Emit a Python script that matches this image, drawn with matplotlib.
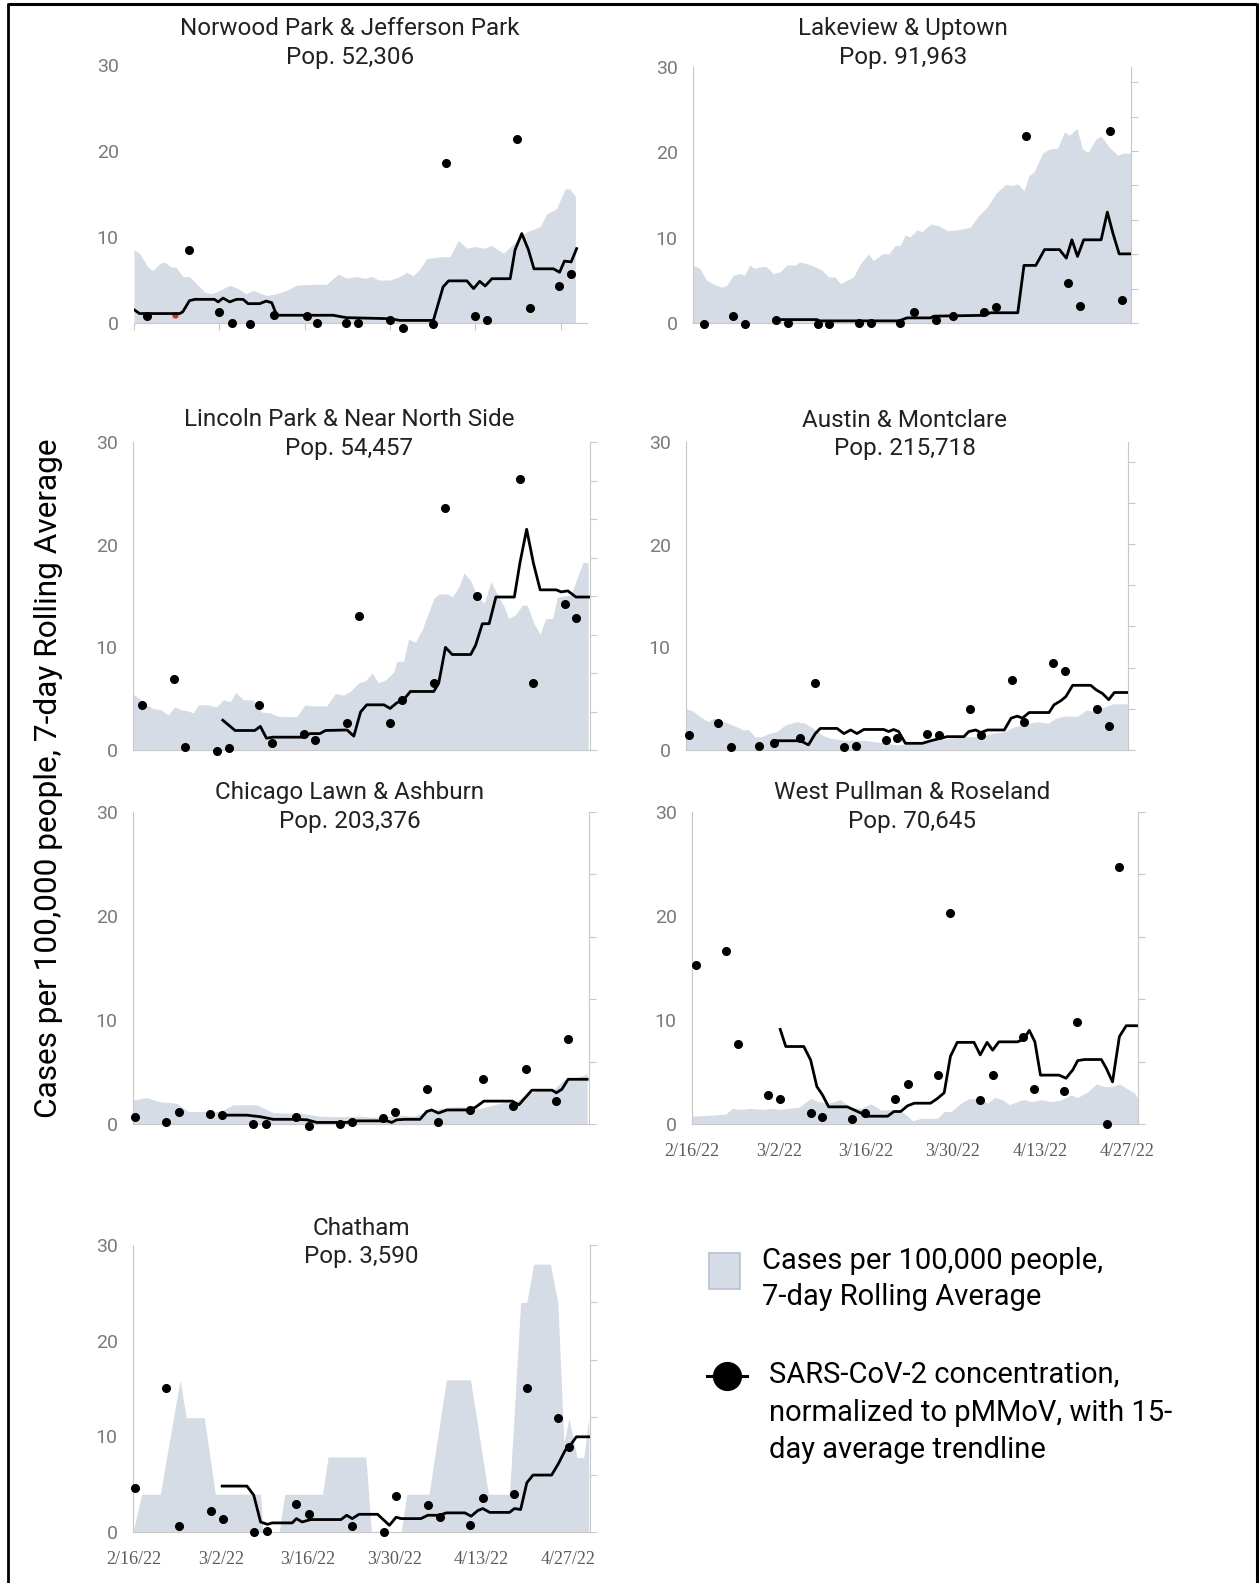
import matplotlib
matplotlib.use("Agg")
import matplotlib.pyplot as plt
from matplotlib.patches import Rectangle

plt.rcParams['font.family'] = ['Roboto', 'DejaVu Sans']

W, H = 1259, 1583

# days counted from 2/16/22, values on the 0-30 axis
norwood_case_x = [0, 0.9, 2.3, 3.1, 4.2, 5.0, 6.1, 6.9, 8.0, 9.1, 10.2, 11.6, 12.7, 14.1, 15.7, 17.1, 18.4, 19.5, 21.7, 23.4,
                  25.0, 26.7, 29.4, 31.6, 33.5, 34.9, 36.5, 37.9, 39.0, 40.1, 42.0, 43.6, 44.7, 45.8, 46.9, 48.0, 50.2, 51.8,
                  53.2, 54.6, 55.9, 57.3, 58.7, 60.6, 62.2, 64.4, 66.6, 67.7, 69.3, 70.7, 71.5, 72.4]
norwood_case_y = [8.5, 8.1, 6.5, 6.1, 6.9, 7.1, 6.5, 6.5, 5.4, 5.4, 4.6, 3.6, 3.4, 3.8, 4.4, 4.0, 3.4, 3.8, 3.2, 3.4,
                  3.8, 4.4, 4.5, 4.5, 5.7, 5.2, 5.4, 5.2, 5.4, 5.0, 5.0, 5.4, 5.9, 5.5, 6.3, 7.5, 7.7, 7.7,
                  9.6, 8.7, 8.9, 8.7, 9.0, 8.1, 9.2, 10.6, 11.2, 12.7, 13.3, 15.6, 15.6, 14.7]
norwood_trend_x = [0, 0.9, 7.5, 8.0, 9.1, 10.0, 13.2, 13.8, 14.6, 15.7, 16.8, 17.9, 18.7, 20.6, 21.7, 22.6, 23.4, 32.7, 33.8, 34.9,
                   42.0, 43.6, 49.1, 50.7, 51.6, 54.6, 55.7, 56.7, 57.6, 58.7, 61.7, 62.5, 63.6, 64.7, 65.6, 68.8, 69.8, 70.6, 71.7, 72.6]
norwood_trend_y = [1.55, 1.1, 1.1, 1.3, 2.6, 2.75, 2.75, 2.45, 2.9, 2.45, 2.75, 2.75, 2.25, 2.25, 2.55, 2.35, 0.9, 0.9, 0.75, 0.62,
                   0.5, 0.3, 0.3, 4.2, 4.9, 4.9, 4.0, 4.85, 4.3, 5.15, 5.15, 8.5, 10.4, 8.5, 6.3, 6.3, 5.9, 7.2, 7.1, 8.65]
norwood_dot_x = [2.2, 9.1, 14.0, 16.0, 19.0, 23.0, 28.3, 30.0, 34.8, 36.8, 42.0, 44.1, 49.1, 51.1, 55.9, 57.9, 62.9, 65.0, 69.7, 71.7]
norwood_dot_y = [0.8, 8.5, 1.3, 0.0, -0.15, 0.9, 0.8, 0.05, 0.05, 0.05, 0.4, -0.55, -0.1, 18.55, 0.8, 0.4, 21.45, 1.8, 4.3, 5.75]
norwood_flag_x = [6.7]
norwood_flag_y = [0.9]

lakeview_case_x = [0, 1.1, 2.2, 3.2, 4.6, 5.4, 6.5, 7.5, 8.3, 9.1, 9.9, 11.0, 11.8, 12.9, 14.0, 15.1, 16.4, 17.2, 18.3, 19.6,
                   20.7, 21.8, 22.8, 23.7, 24.7, 25.8, 26.9, 28.2, 29.0, 30.4, 31.5, 32.5, 33.3, 34.1, 34.9, 36.0, 36.8, 38.2,
                   39.5, 40.9, 42.2, 43.5, 44.6, 45.7, 47.3, 48.7, 50.3, 51.1, 52.2, 53.2, 54.0, 54.8, 56.2, 57.3, 58.6, 59.7,
                   60.5, 61.7, 62.6, 63.5, 64.8, 65.6, 66.9, 68.3, 69.1, 70.4]
lakeview_case_y = [6.8, 6.4, 5.0, 4.6, 4.2, 4.4, 5.6, 5.8, 5.6, 6.8, 6.4, 6.6, 6.6, 5.8, 6.0, 6.8, 6.8, 7.15, 6.95, 6.6,
                   6.2, 5.4, 5.4, 4.6, 5.0, 5.4, 6.95, 8.1, 7.3, 8.1, 8.1, 9.1, 9.1, 10.3, 10.1, 10.9, 10.7, 11.6,
                   11.4, 10.8, 10.9, 11.05, 11.25, 12.4, 13.6, 15.2, 16.25, 16.1, 16.3, 15.5, 17.3, 17.7, 19.9, 20.4, 20.5, 22.4,
                   22.0, 22.8, 20.4, 20.0, 21.6, 21.9, 20.6, 19.65, 19.9, 19.9]
lakeview_trend_x = [13.3, 19.9, 20.4, 33.1, 34.4, 38.2, 38.7, 46.8, 47.8, 52.2, 53.2, 55.1, 56.5, 58.9, 60.0, 60.9, 61.8, 62.8,
                    65.6, 66.6, 67.5, 68.5, 70.4]
lakeview_trend_y = [0.4, 0.4, 0.25, 0.25, 0.6, 0.6, 0.8, 0.9, 1.2, 1.2, 6.75, 6.75, 8.6, 8.6, 7.6, 9.75, 7.8, 9.75,
                    9.75, 13.0, 10.5, 8.1, 8.1]
lakeview_dot_x = [1.7, 6.5, 8.3, 13.3, 15.3, 20.1, 21.9, 26.7, 28.6, 33.2, 35.6, 39.1, 41.8, 46.8, 48.7, 53.5, 60.2, 62.2, 67.1, 69.0]
lakeview_dot_y = [-0.15, 0.8, -0.15, 0.4, 0.0, -0.15, -0.15, 0.0, 0.0, 0.0, 1.3, 0.4, 0.8, 1.3, 1.9, 21.9, 4.7, 2.0, 22.45, 2.75]

lincoln_case_x = [0, 1.1, 2.2, 3.3, 4.6, 5.7, 6.8, 7.9, 9.0, 9.8, 10.6, 12.2, 13.6, 14.7, 15.8, 16.7, 17.9, 19.6, 20.9, 22.3,
                  23.6, 25.0, 26.6, 28.0, 29.3, 31.5, 32.9, 34.2, 35.3, 36.7, 37.8, 38.9, 39.9, 41.0, 42.4, 42.9, 44.0, 44.8,
                  45.9, 47.0, 47.8, 48.9, 49.7, 51.1, 51.9, 53.0, 53.8, 54.9, 56.0, 57.1, 58.2, 59.2, 60.3, 61.1, 62.2, 63.3,
                  64.1, 65.2, 66.2, 67.1, 68.2, 69.0, 70.1, 71.2, 72.3, 73.2, 74.0]
lincoln_case_y = [5.45, 5.0, 4.4, 4.05, 3.9, 3.4, 4.2, 3.9, 3.8, 3.6, 4.4, 4.4, 4.2, 4.9, 4.7, 5.6, 4.9, 4.85, 3.7, 3.6,
                  3.3, 3.25, 3.25, 4.4, 4.3, 4.3, 5.5, 5.35, 5.7, 6.55, 6.75, 7.5, 6.55, 6.8, 7.6, 8.65, 8.65, 10.8,
                  10.5, 11.7, 13.0, 14.75, 15.2, 15.2, 14.9, 15.9, 17.25, 16.5, 14.9, 14.3, 16.4, 15.2, 14.0, 12.8, 13.2, 14.1,
                  14.1, 12.3, 11.3, 12.8, 12.8, 14.9, 15.0, 15.1, 16.9, 18.3, 18.2]
lincoln_trend_x = [14.6, 16.6, 19.8, 20.7, 21.7, 22.8, 27.7, 28.8, 30.4, 31.3, 34.8, 35.9, 37.0, 38.0, 40.8, 41.8, 42.9, 44.0,
                   45.1, 48.9, 49.7, 50.8, 51.9, 54.9, 55.7, 56.8, 57.9, 59.0, 62.0, 62.9, 64.0, 65.1, 66.2, 68.8, 69.6, 70.7,
                   72.0, 74.2]
lincoln_trend_y = [2.9, 1.9, 1.9, 2.3, 1.15, 1.25, 1.25, 1.6, 1.6, 1.9, 1.95, 1.35, 3.7, 4.4, 4.4, 4.05, 4.6, 4.9,
                   5.7, 5.7, 6.5, 10.0, 9.3, 9.3, 10.2, 12.3, 12.3, 14.9, 14.9, 18.2, 21.5, 18.2, 15.6, 15.6, 15.4, 15.5,
                   14.9, 14.9]
lincoln_dot_x = [1.4, 6.6, 8.4, 13.6, 15.6, 20.5, 22.6, 27.8, 29.6, 34.8, 36.8, 41.8, 43.8, 49.0, 50.8, 56.0, 63.0, 65.0, 70.3, 72.0]
lincoln_dot_y = [4.4, 6.95, 0.3, -0.05, 0.15, 4.4, 0.7, 1.6, 1.0, 2.6, 13.05, 2.6, 4.85, 6.5, 23.6, 15.0, 26.35, 6.5, 14.25, 12.9]

austin_case_x = [0, 1.2, 2.3, 3.6, 4.4, 5.5, 6.8, 8.2, 9.2, 10.0, 11.1, 12.2, 13.3, 14.6, 16.0, 17.8, 19.2, 20.5, 21.9, 23.2,
                 25.4, 28.6, 31.8, 34.0, 35.6, 38.3, 40.4, 42.6, 44.7, 47.4, 49.0, 51.2, 52.8, 54.9, 56.6, 58.2, 59.5, 60.9,
                 63.0, 64.4, 65.7, 67.3, 68.7, 71.1]
austin_case_y = [4.05, 3.75, 3.25, 2.75, 3.1, 2.9, 2.6, 2.25, 1.95, 2.0, 1.3, 1.3, 1.6, 1.8, 2.45, 2.75, 2.6, 2.1, 1.45, 1.15,
                 0.95, 0.95, 0.7, 0.5, 0.6, 0.6, 0.95, 1.15, 1.3, 1.3, 1.6, 1.8, 2.25, 2.6, 2.75, 2.6, 3.1, 3.3,
                 3.3, 3.9, 3.75, 4.2, 4.5, 4.5]
austin_trend_x = [14.1, 18.4, 19.7, 20.8, 21.6, 24.3, 25.4, 26.5, 27.5, 28.6, 31.8, 32.6, 33.4, 34.2, 35.3, 38.0, 39.4, 42.0,
                  44.7, 45.5, 46.6, 47.4, 48.5, 51.2, 52.3, 53.3, 54.1, 55.2, 58.4, 59.2, 60.3, 61.1, 62.2, 65.1, 66.0, 67.0,
                  68.0, 68.9, 71.1]
austin_trend_y = [0.9, 0.9, 0.5, 1.6, 2.1, 2.1, 1.6, 1.95, 1.6, 2.0, 2.0, 1.8, 2.0, 1.8, 0.65, 0.65, 0.9, 1.3,
                  1.3, 1.8, 1.95, 1.7, 1.95, 1.95, 3.1, 3.3, 3.1, 3.65, 3.65, 4.4, 4.8, 5.2, 6.3, 6.3, 5.85, 5.5,
                  4.9, 5.6, 5.6]
austin_dot_x = [0.5, 5.2, 7.2, 11.8, 14.1, 18.4, 20.8, 25.4, 27.3, 32.1, 34.0, 38.7, 40.7, 45.7, 47.5, 52.4, 54.3, 59.1, 61.0,
                66.1, 68.0]
austin_dot_y = [1.45, 2.6, 0.25, 0.4, 0.65, 1.15, 6.5, 0.25, 0.4, 0.95, 1.15, 1.55, 1.45, 3.95, 1.45, 6.8, 2.75, 8.45, 7.7,
                3.95, 2.35]

chicago_case_x = [0, 2.2, 4.3, 7.1, 9.0, 12.0, 14.1, 16.3, 20.1, 22.8, 25.0, 27.2, 30.4, 33.7, 37.0, 39.1, 41.3, 43.5, 45.7,
                  47.8, 50.0, 52.2, 54.3, 56.5, 58.7, 60.9, 62.0, 64.1, 66.3, 68.5, 70.1, 71.7, 73.4, 73.9]
chicago_case_y = [2.3, 2.55, 2.15, 2.0, 1.2, 1.2, 1.2, 1.85, 1.85, 1.1, 1.05, 1.05, 0.75, 0.7, 0.75, 0.65, 0.7, 0.85, 0.75,
                  1.2, 1.5, 1.65, 1.65, 1.5, 1.85, 2.15, 2.0, 2.95, 3.25, 3.35, 4.25, 4.4, 4.7, 4.9]
chicago_trend_x = [14.4, 18.5, 20.7, 22.8, 26.6, 28.3, 29.9, 34.8, 35.6, 41.3, 42.1, 42.9, 44.3, 46.7, 47.8, 48.6, 49.7, 51.1,
                   54.3, 55.7, 57.1, 61.7, 62.8, 64.9, 68.2, 68.9, 69.8, 70.8, 73.9]
chicago_trend_y = [0.85, 0.85, 0.7, 0.45, 0.45, 0.4, 0.15, 0.15, 0.3, 0.3, 0.15, 0.4, 0.45, 0.45, 1.2, 1.35, 1.05, 1.35,
                   1.35, 1.6, 2.2, 2.2, 1.85, 3.25, 3.25, 3.0, 3.35, 4.3, 4.3]
chicago_dot_x = [0.4, 5.4, 7.5, 12.6, 14.5, 19.6, 21.6, 26.5, 28.6, 33.7, 35.6, 40.7, 42.7, 47.8, 49.7, 54.8, 56.9, 61.8, 63.9,
                 68.9, 70.8]
chicago_dot_y = [0.7, 0.2, 1.2, 0.95, 0.85, 0.0, 0.0, 0.7, -0.2, 0.0, 0.15, 0.55, 1.2, 3.35, 0.15, 1.35, 4.3, 1.75, 5.3,
                 2.2, 8.15]

pullman_case_x = [0, 3.0, 5.4, 6.5, 7.8, 9.4, 11.6, 12.6, 14.2, 15.3, 17.2, 19.1, 20.4, 22.0, 23.9, 25.5, 27.2, 28.8, 30.4,
                  32.5, 34.1, 35.6, 36.8, 39.5, 40.6, 41.7, 43.3, 44.6, 46.5, 47.6, 48.7, 50.0, 51.1, 52.7, 53.5, 54.6,
                  56.2, 57.8, 59.4, 61.0, 62.1, 63.7, 65.1, 66.4, 67.5, 68.8, 70.2, 71.2, 71.8]
pullman_case_y = [0.75, 0.85, 0.95, 1.5, 1.4, 1.5, 1.4, 1.5, 1.4, 1.5, 1.6, 2.45, 2.15, 2.0, 2.35, 1.6, 1.5, 1.95, 1.35,
                  1.4, 1.05, 0.3, 0.55, 0.55, 1.2, 1.2, 2.0, 2.45, 2.45, 2.0, 2.55, 2.35, 1.85, 2.25, 2.35, 2.15,
                  2.35, 2.15, 2.3, 2.8, 2.55, 3.1, 3.85, 3.6, 3.6, 3.85, 3.35, 3.0, 2.45]
pullman_trend_x = [14.2, 15.1, 18.0, 19.1, 20.1, 21.0, 22.0, 25.0, 26.1, 27.2, 28.2, 31.5, 32.5, 33.6, 34.7, 35.8, 38.4, 39.5,
                   40.6, 41.6, 42.7, 45.4, 46.4, 47.5, 48.4, 49.4, 52.4, 53.4, 54.3, 55.2, 56.1, 59.1, 60.2, 61.3, 62.1,
                   63.2, 65.9, 66.7, 67.7, 68.8, 69.9, 71.8]
pullman_trend_y = [9.1, 7.45, 7.45, 6.15, 3.6, 2.8, 1.65, 1.65, 1.35, 1.05, 0.75, 0.75, 1.2, 1.2, 1.75, 2.0, 2.0, 2.45,
                   3.0, 6.5, 7.85, 7.85, 6.65, 7.85, 7.1, 7.9, 7.9, 8.15, 9.0, 7.9, 4.7, 4.7, 4.4, 5.2, 6.1,
                   6.2, 6.2, 5.35, 4.05, 8.4, 9.45, 9.45]
pullman_dot_x = [0.6, 5.4, 7.4, 12.3, 14.2, 19.1, 21.0, 25.8, 27.8, 32.7, 34.7, 39.6, 41.6, 46.4, 48.4, 53.3, 55.1, 59.9, 61.9,
                 66.8, 68.8]
pullman_dot_y = [15.3, 16.65, 7.7, 2.8, 2.4, 1.1, 0.7, 0.45, 1.1, 2.4, 3.85, 4.7, 20.3, 2.3, 4.7, 8.4, 3.35, 3.2, 9.8,
                 0.0, 24.75]

chatham_case_x = [-0.2, 1.2, 4.2, 7.4, 8.4, 11.3, 13.1, 20.4, 20.8, 23.4, 24.3, 30.4, 31.3, 37.4, 38.3, 43.1, 44.0, 47.6,
                  50.4, 54.3, 57.2, 60.6, 62.4, 63.4, 64.5, 67.2, 68.4, 69.4, 70.2, 71.5, 72.6, 73.4]
chatham_case_y = [0, 3.95, 3.95, 15.9, 11.95, 11.95, 3.95, 3.95, 0, 0, 3.95, 3.95, 7.85, 7.85, 0, 0, 3.95, 3.95,
                  15.9, 15.9, 3.95, 3.95, 24.0, 24.0, 28.0, 28.0, 24.0, 9.3, 11.9, 7.8, 7.8, 11.9]
chatham_trend_x = [14.2, 18.2, 19.3, 20.4, 21.5, 22.3, 25.5, 26.2, 27.1, 28.5, 33.4, 34.3, 35.2, 36.3, 39.3, 41.2, 42.3, 43.1,
                   46.3, 47.4, 49.3, 50.4, 53.4, 54.4, 55.5, 56.3, 57.4, 60.6, 61.4, 62.4, 63.4, 64.4, 67.4, 68.5, 69.6,
                   70.4, 71.4, 73.6]
chatham_trend_y = [4.8, 4.8, 3.85, 1.05, 0.8, 0.95, 0.95, 1.4, 1.05, 1.3, 1.3, 1.75, 1.4, 1.85, 1.85, 0.7, 1.55, 1.4,
                   1.4, 1.75, 1.75, 2.0, 2.0, 1.65, 2.25, 2.45, 2.05, 2.05, 2.45, 2.35, 5.15, 5.95, 5.95, 7.15, 8.55,
                   9.05, 9.95, 9.95]
chatham_dot_x = [0.2, 5.1, 7.3, 12.4, 14.3, 19.3, 21.4, 26.2, 28.3, 35.2, 40.3, 42.3, 47.4, 49.3, 54.3, 56.4, 61.3, 63.4,
                 68.4, 70.2]
chatham_dot_y = [4.65, 15.05, 0.6, 2.2, 1.4, 0.0, 0.15, 2.9, 1.85, 0.6, 0.0, 3.75, 2.8, 1.55, 0.7, 3.6, 4.0, 15.05,
                 11.95, 8.9]

date_ticks = [0, 14, 28, 42, 56, 70]
date_labels = ["2/16/22", "3/2/22", "3/16/22", "3/30/22", "4/13/22", "4/27/22"]
y_ticks = [0, 10, 20, 30]

FILL = "#d6dce6"
SPINE = "#c8c8c8"

# name, pop, data, box (l, t, r, b px), xlim, title centre px, right-axis intervals, left spine, date labels
panels = [
    ("Norwood Park & Jefferson Park", "52,306",
     (norwood_case_x, norwood_case_y, norwood_trend_x, norwood_trend_y, norwood_dot_x, norwood_dot_y),
     (134, 65, 587, 323), (0, 74.3), (350, 43), None, False, "ticks"),
    ("Lakeview & Uptown", "91,963",
     (lakeview_case_x, lakeview_case_y, lakeview_trend_x, lakeview_trend_y, lakeview_dot_x, lakeview_dot_y),
     (693, 67, 1131, 323), (0, 70.4), (903, 43), 7.44, True, None),
    ("Lincoln Park & Near North Side", "54,457",
     (lincoln_case_x, lincoln_case_y, lincoln_trend_x, lincoln_trend_y, lincoln_dot_x, lincoln_dot_y),
     (133, 442, 590, 750), (0, 74.3), (349, 434), 8, True, None),
    ("Austin & Montclare", "215,718",
     (austin_case_x, austin_case_y, austin_trend_x, austin_trend_y, austin_dot_x, austin_dot_y),
     (686, 442, 1128, 750), (0, 71.1), (905, 434.5), 7.48, True, None),
    ("Chicago Lawn & Ashburn", "203,376",
     (chicago_case_x, chicago_case_y, chicago_trend_x, chicago_trend_y, chicago_dot_x, chicago_dot_y),
     (133, 812, 589, 1124), (0, 74.2), (350, 807), 5, True, None),
    ("West Pullman & Roseland", "70,645",
     (pullman_case_x, pullman_case_y, pullman_trend_x, pullman_trend_y, pullman_dot_x, pullman_dot_y),
     (692, 812, 1138, 1124), (0, 71.8), (912, 807), 5, True, "labels"),
    ("Chatham", "3,590",
     (chatham_case_x, chatham_case_y, chatham_trend_x, chatham_trend_y, chatham_dot_x, chatham_dot_y),
     (133, 1245, 590, 1532), (-0.2, 73.6), (361, 1242.5), 5, True, "labels"),
]

fig = plt.figure(figsize=(W / 100, H / 100), dpi=100)

for name, pop, data, box, xlim, tpos, right_n, left_spine, dates in panels:
    l, t, r, b = box
    ax = fig.add_axes([l / W, 1 - b / H, (r - l) / W, (b - t) / H])
    cx, cy, tx, ty, dx, dy = data
    ax.fill_between(cx, cy, 0, color=FILL, lw=0, zorder=1)
    ax.plot(tx, ty, color="black", lw=2.0, zorder=3)
    ax.plot(dx, dy, "o", color="black", ms=5.5, zorder=4, clip_on=False)
    if name.startswith("Norwood"):
        ax.plot(norwood_flag_x, norwood_flag_y, "o", color="#c0392b", ms=3.5, zorder=2)
    ax.set_xlim(*xlim)
    ax.set_ylim(0, 30)
    ax.set_yticks(y_ticks)
    ax.tick_params(axis="y", length=0, pad=11, labelsize=14, labelcolor="#7a7a7a")
    for s in ["top", "right"]:
        ax.spines[s].set_visible(False)
    ax.spines["left"].set_visible(left_spine)
    ax.spines["left"].set_color(SPINE)
    ax.spines["bottom"].set_color(SPINE)
    ax.set_xticks(date_ticks)
    if dates == "labels":
        ax.set_xticklabels(date_labels, family=["Liberation Serif", "DejaVu Serif"], fontsize=13, color="#5a5a5a")
        ax.tick_params(axis="x", length=0, pad=14)
    elif dates == "ticks":
        ax.set_xticklabels([])
        ax.tick_params(axis="x", length=5, color=SPINE)
    else:
        ax.set_xticklabels([])
        ax.tick_params(axis="x", length=0)
    if right_n is not None:
        tw = ax.twinx()
        tw.set_ylim(0, right_n)
        tw.set_yticks(range(int(right_n) + 1))
        tw.set_yticklabels([])
        tw.tick_params(axis="y", length=5, color=SPINE)
        for s in ["top", "left", "bottom"]:
            tw.spines[s].set_visible(False)
        tw.spines["right"].set_color(SPINE)
    fig.text(tpos[0] / W, 1 - tpos[1] / H, f"{name}\nPop. {pop}", ha="center", va="center",
             fontsize=17.5, linespacing=1.3, color="#222222")

# overlay in pixel coordinates for frame, shared label and legend
ov = fig.add_axes([0, 0, 1, 1], zorder=10)
ov.set_xlim(0, W)
ov.set_ylim(H, 0)
ov.axis("off")
ov.patch.set_alpha(0)

ov.plot([8, 8], [3, H], color="black", lw=2.0, solid_capstyle="butt")
ov.plot([8, 1257], [4, 4], color="black", lw=2.2, solid_capstyle="butt")
ov.plot([1257, 1257], [3, H], color="black", lw=2.2, solid_capstyle="butt")

ov.text(49, 778, "Cases per 100,000 people, 7-day Rolling Average", rotation=90,
        ha="center", va="center", fontsize=22.8, color="black")

ov.add_patch(Rectangle((709, 1253), 31, 36, facecolor=FILL, edgecolor="#b7c1d2", lw=1.2))
ov.text(762, 1261, "Cases per 100,000 people,", ha="left", va="center", fontsize=21)
ov.text(762, 1297, "7-day Rolling Average", ha="left", va="center", fontsize=21)

ov.plot([707, 747], [1376, 1376], color="black", lw=2.2)
ov.plot([727], [1376], "o", color="black", ms=20)
ov.text(769, 1375, "SARS-CoV-2 concentration,", ha="left", va="center", fontsize=21)
ov.text(769, 1413, "normalized to pMMoV, with 15-", ha="left", va="center", fontsize=21)
ov.text(769, 1450, "day average trendline", ha="left", va="center", fontsize=21)

fig.savefig("out.png", dpi=100)
